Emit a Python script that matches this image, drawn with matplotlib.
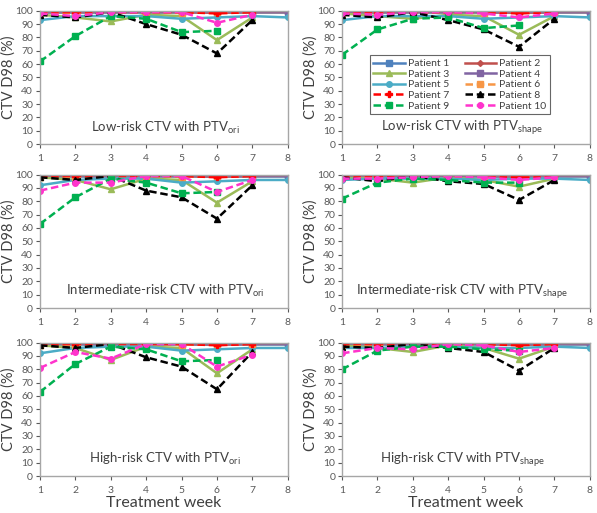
"""Recreate CTV D98 per treatment week, six panels (risk level x PTV type)."""

import matplotlib

matplotlib.use("Agg")
import matplotlib.pyplot as plt
import numpy as np

plt.rcParams["font.family"] = ["Lato", "DejaVu Sans"]
plt.rcParams["mathtext.fontset"] = "custom"
plt.rcParams["mathtext.rm"] = "Lato"

WEEKS = [1, 2, 3, 4, 5, 6, 7, 8]
PATIENTS = [f"Patient {i}" for i in range(1, 11)]

PANEL_TITLES = [
    r"Low-risk CTV with PTV$_{\mathrm{ori}}$",
    r"Low-risk CTV with PTV$_{\mathrm{shape}}$",
    r"Intermediate-risk CTV with PTV$_{\mathrm{ori}}$",
    r"Intermediate-risk CTV with PTV$_{\mathrm{shape}}$",
    r"High-risk CTV with PTV$_{\mathrm{ori}}$",
    r"High-risk CTV with PTV$_{\mathrm{shape}}$",
]

# patients that are nearly flat at ~99-100 in every panel
P1 = [99, 99, 99, 99, 99, 99, 99, 99]
P2 = [99, 99, 99, 99, 99, 98.5, 99, 99]
P4 = [100, 100, 100, 100, 100, 100, 100, 100]
P6 = [98.5, 98.5, 99, 99, 98.5, 99, 99]
P7 = [99, 99, 99, 99, 99, 98, 99]

# panel-specific series (index order matches PANEL_TITLES)
P3 = [
    [97, 95, 92, 97, 96, 78, 95],
    [98, 96, 94, 97, 96, 82, 96],
    [98, 96, 89, 97, 96, 79, 95],
    [98, 97, 94, 98, 96, 91, 97],
    [98, 96, 87, 97, 96, 77, 95],
    [98, 96, 93, 98, 96, 88, 97],
]
P5 = [
    [93, 96, 96, 96, 94, 95, 96, 95],
    [93, 96, 96, 96, 94, 95, 96, 95],
    [92, 96, 97, 97, 94, 95, 96, 96],
    [96, 97, 97, 97, 96, 97, 97, 96],
    [92, 96, 97, 97, 94, 95, 96, 96],
    [96, 96, 97, 97, 96, 96, 97, 96],
]
P8 = [
    [97, 95, 99, 90, 82, 68, 93],
    [97, 95, 99, 93, 86, 73, 94],
    [98, 96, 99, 88, 83, 67, 92],
    [98, 95, 99, 95, 93, 81, 96],
    [98, 96, 99, 89, 82, 65, 93],
    [97, 96, 99, 96, 93, 79, 96],
]
P9 = [
    [62, 81, 96, 94, 84, 85],
    [67, 86, 94, 95, 87, 89],
    [63, 83, 97, 94, 86, 87],
    [82, 94, 97, 96, 94, 94],
    [63, 84, 97, 95, 86, 87],
    [80, 94, 97, 97, 95, 94],
]
P10 = [
    [98, 96, 99, 99, 99, 91, 97],
    [98, 97, 99, 99, 98, 95, 98],
    [88, 94, 94, 99, 99, 87, 96],
    [97, 97, 98, 99, 98, 96, 98],
    [81, 93, 88, 99, 99, 82, 91],
    [92, 96, 95, 99, 98, 93, 96],
]

STYLES = [
    dict(color="#4F81BD", ls="-", marker="s", ms=4.5),
    dict(color="#C0504D", ls="-", marker="D", ms=3),
    dict(color="#9BBB59", ls="-", marker="^", ms=4),
    dict(color="#8064A2", ls="-", marker="s", ms=4.5),
    dict(color="#4BACC6", ls="-", marker="o", ms=4),
    dict(color="#F79646", ls="--", marker="s", ms=4.5),
    dict(color="#FF0000", ls="--", marker="P", ms=4),
    dict(color="#000000", ls="--", marker="^", ms=4.5),
    dict(color="#00B050", ls="--", marker="s", ms=4),
    dict(color="#FF33CC", ls="--", marker="o", ms=4),
]

LEFTS = [0.067, 0.573]
BOTTOMS = [0.719, 0.3996, 0.0721]
WIDTH, HEIGHT = 0.415, 0.26
TITLE_X = [0.505, 0.485]

fig = plt.figure(figsize=(5.97, 5.13), dpi=100)

for k, title in enumerate(PANEL_TITLES):
    row, col = divmod(k, 2)
    ax = fig.add_axes([LEFTS[col], BOTTOMS[row], WIDTH, HEIGHT])
    series = [P1, P2, P3[k], P4, P5[k], P6, P7, P8[k], P9[k], P10[k]]
    handles = []
    for name, vals, st in zip(PATIENTS, series, STYLES):
        (h,) = ax.plot(WEEKS[: len(vals)], vals, lw=1.8, label=name,
                       color=st["color"], ls=st["ls"], marker=st["marker"],
                       ms=st["ms"], dashes=(3, 1.5) if st["ls"] == "--" else (None, None))
        handles.append(h)

    ax.set_xlim(1, 8)
    ax.set_ylim(0, 100)
    ax.set_xticks(WEEKS)
    ax.set_yticks(np.arange(0, 101, 10))
    ax.tick_params(labelsize=7.5, colors="#595959", length=3, direction="out",
                   pad=2, top=False, right=False)
    ax.tick_params(axis="x", pad=4)
    for sp in ax.spines.values():
        sp.set_color("#A6A6A6")
        sp.set_linewidth(1)
    ax.set_ylabel("CTV D98 (%)", fontsize=10.5, color="#404040")
    ax.yaxis.set_label_coords(-0.098, 0.5)
    ax.text(TITLE_X[col], 0.125, title, transform=ax.transAxes, ha="center",
            va="center", fontsize=9.5, color="#404040")
    if row == 2:
        ax.set_xlabel("Treatment week", fontsize=11.5, color="#404040", labelpad=1)

    if k == 1:
        # row-major order as in the original legend
        order = [0, 2, 4, 6, 8, 1, 3, 5, 7, 9]
        leg = ax.legend([handles[i] for i in order], [PATIENTS[i] for i in order],
                        ncol=2, fontsize=7.5, loc="center",
                        bbox_to_anchor=(0.475, 0.445), frameon=True, fancybox=False,
                        handlelength=3, labelspacing=0.12, columnspacing=1.5,
                        borderpad=0.35, handletextpad=0.3)
        leg.get_frame().set_edgecolor("#404040")
        leg.get_frame().set_linewidth(0.8)
        for t in leg.get_texts():
            t.set_color("#404040")

fig.savefig("out.png", dpi=100)
